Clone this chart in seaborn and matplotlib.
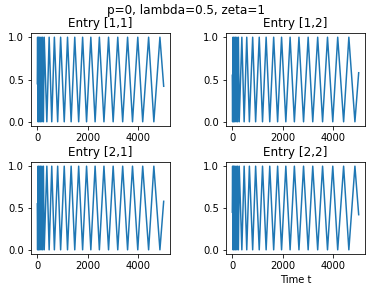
import matplotlib

matplotlib.use("Agg")

import matplotlib.pyplot as plt
import numpy as np
import pandas as pd
import seaborn as sns


# times of the turning points (dense block near t=0, then single strokes)
turn_times = [
    0, 12, 28, 48, 70, 95, 122, 150, 180, 210, 240,
    273, 377, 468, 571, 675, 805, 922, 1065, 1195, 1338, 1481, 1636,
    1792, 1948, 2117, 2286, 2455, 2636, 2818, 3000, 3182, 3377, 3571,
    3766, 3974, 4169, 4403, 4610, 4850, 4999,
]

# diagonal entries [1,1] and [2,2]
diag_values = [
    0.45, 1, 0, 1, 0, 1, 0, 1, 0, 1, 0,
    1, 0, 1, 0, 1, 0, 1, 0, 1, 0, 1, 0,
    1, 0, 1, 0, 1, 0, 1, 0, 1, 0, 1,
    0, 1, 0, 1, 0, 1, 0.42,
]

# off-diagonal entries [1,2] and [2,1]
offdiag_values = [
    0.55, 0, 1, 0, 1, 0, 1, 0, 1, 0, 1,
    0, 1, 0, 1, 0, 1, 0, 1, 0, 1, 0, 1,
    0, 1, 0, 1, 0, 1, 0, 1, 0, 1, 0,
    1, 0, 1, 0, 1, 0, 0.58,
]

entry_labels = ["Entry [1,1]", "Entry [1,2]", "Entry [2,1]", "Entry [2,2]"]
entry_series = [diag_values, offdiag_values, offdiag_values, diag_values]

W, H = 372, 291
fig = plt.figure(figsize=(W / 72, H / 72), dpi=72)

# axes boxes in pixels: left, top, right, bottom
boxes = [
    (31, 33, 170, 126),
    (226, 33, 365, 126),
    (31, 162, 170, 254),
    (226, 162, 365, 254),
]

for label, values, (x0, y0, x1, y1) in zip(entry_labels, entry_series, boxes):
    ax = fig.add_axes([x0 / W, 1 - y1 / H, (x1 - x0) / W, (y1 - y0) / H])
    frame = pd.DataFrame({"t": turn_times, "value": values})
    sns.lineplot(data=frame, x="t", y="value", ax=ax, color="#1f77b4", linewidth=1.5)
    ax.set_title(label)
    ax.set_xticks([0, 2000, 4000])
    ax.set_yticks([0.0, 0.5, 1.0])
    ax.set_xlabel("")
    ax.set_ylabel("")

ax.set_xlabel("Time t")
fig.suptitle("p=0, lambda=0.5, zeta=1", y=1 - 4 / H, va="top")

fig.savefig("out.png", dpi=72)
